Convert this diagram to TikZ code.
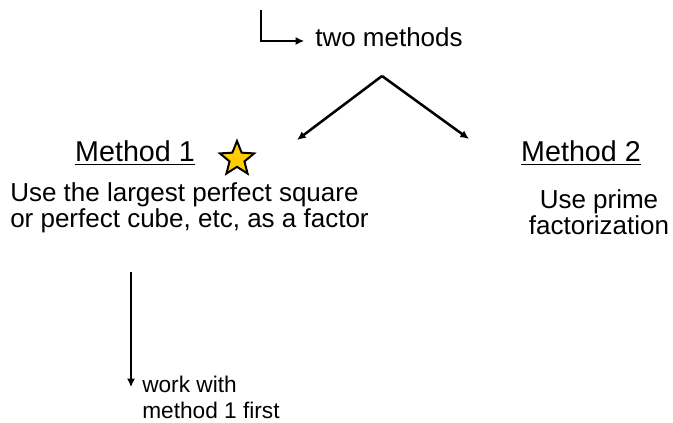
\documentclass[tikz,border=0pt]{standalone}
\usepackage{fontspec}
\setmainfont{Liberation Sans}
\usetikzlibrary{arrows.meta, shapes.geometric, positioning}
\definecolor{staryellow}{RGB}{255,206,0}
\tikzset{
  >=latex,
  % testi
  title/.style={font=\fontsize{21.5}{26}\selectfont, inner sep=0pt},
  body/.style={font=\fontsize{19.5}{20}\selectfont, align=left, inner sep=0pt},
  note/.style={font=\fontsize{17}{19.5}\selectfont, align=left, inner sep=0pt},
  % frecce
  connect arrow/.style={-{Latex[length=6.5,width=6]}, line width=1.9pt},
  mark star/.style={star, star points=5, star point ratio=2.3, draw=black, line width=1.5pt,
    fill=staryellow, minimum size=27pt, inner sep=0pt}
}
\begin{document}
\begin{tikzpicture}[x=0.75pt,y=-0.75pt]
        \useasboundingbox (0,0) rectangle (673,423);
        \node[body, anchor=base west] (two) at (315,47) {two methods};
        \coordinate (corner top) at (261,10);
        \draw[connect arrow] (corner top) |- ([xshift=-8pt,yshift=4.5pt]two.base west);
        \coordinate (split) at (382,76);
        \coordinate (left end) at (297,140);
        \coordinate (right end) at (469,139);
        \draw[connect arrow] (split) -- (left end);
        \draw[connect arrow] (split) -- (right end);
        \node[title, anchor=base] (m1) at (135,162) {\underline{Method 1}};
        \node[mark star] (star) at (237,159) {};
        % la base dei nodi su due righe e' l'ultima riga
        \node[body, anchor=base west] (m1 text) at (10,228) {Use the largest perfect square\\or perfect cube, etc, as a factor};
        \node[title, anchor=base] (m2) at (581,162) {\underline{Method 2}};
        \node[body, align=center, anchor=base] (m2 text) at (599,235) {Use prime\\factorization};
        \node[note, anchor=base west] (work) at (142,418) {work with\\method 1 first};
        \coordinate (down top) at (131,272);
        \draw[connect arrow] (down top) -- ([yshift=-9pt]down top |- work.north);
      \end{tikzpicture}
\end{document}
